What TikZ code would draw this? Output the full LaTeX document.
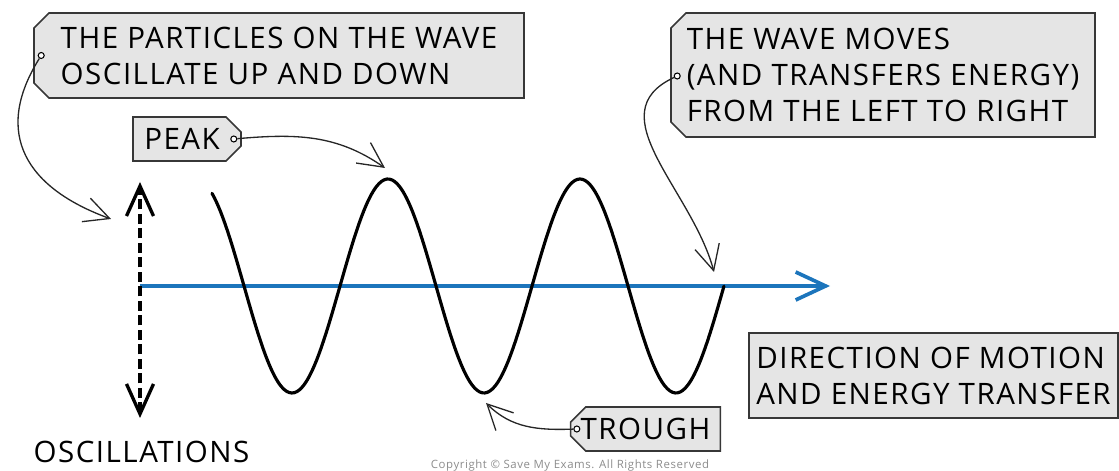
\documentclass[tikz,border=0pt]{standalone}
\usepackage{fontspec}
\setmainfont{Open Sans}[LetterSpace=5]
\usetikzlibrary{shapes.misc,arrows.meta,positioning,calc}

\definecolor{axisblue}{RGB}{28,117,188}
\definecolor{tagfill}{RGB}{229,229,229}
\definecolor{tagline}{RGB}{55,55,55}

\begin{document}
\begin{tikzpicture}[
    >={Straight Barb[length=5mm,width=5mm]},
    labelfont/.style={font=\fontsize{16.8}{20.5}\selectfont},
    tagbox/.style={labelfont, draw=tagline, fill=tagfill, line width=0.9pt, chamfered rectangle, chamfered rectangle xsep=0.15cm, chamfered rectangle ysep=0.15cm, align=left, inner xsep=0.05cm, inner ysep=0pt},
    tagwest/.style={tagbox, chamfered rectangle corners={north west,south west}},
    tageast/.style={tagbox, chamfered rectangle corners={north east,south east}},
    plainbox/.style={labelfont, draw=tagline, fill=tagfill, line width=0.9pt, rectangle, align=left, inner xsep=0.05cm, inner ysep=0pt},
    pindot/.style={circle, draw=black, fill=white, line width=0.6pt, inner sep=0pt, minimum size=0.12cm},
    callout/.style={->, line width=0.75pt, black!85},
    wave/.style={line width=1.8pt, line cap=round},
    axisline/.style={->, >={Straight Barb[length=6mm,width=5.6mm]}, axisblue, line width=2.1pt},
    oscline/.style={<->, >={Straight Barb[length=6mm,width=5.4mm]}, line width=1.9pt, dash pattern=on 0.2cm off 0.09cm}
]
\useasboundingbox (0,0) rectangle (22.38,9.42);

% labels
\node[tagwest, minimum width=9.80cm, minimum height=1.70cm] (particles) at (5.58,8.31) {THE PARTICLES ON THE WAVE\\OSCILLATE UP AND DOWN};
\node[tageast, minimum width=2.16cm, minimum height=0.88cm] (peak) at (3.74,6.64) {PEAK\hspace*{0.2cm}};
\node[tagwest, minimum width=8.48cm, minimum height=2.48cm] (moves) at (17.66,7.92) {THE WAVE MOVES\\(AND TRANSFERS ENERGY)\\FROM THE LEFT TO RIGHT};
\node[plainbox, minimum width=7.38cm, minimum height=1.70cm] (direction) at (18.67,1.91) {DIRECTION OF MOTION\\AND ENERGY TRANSFER};
\node[tagwest, minimum width=2.98cm, minimum height=0.88cm] (trough) at (12.91,0.84) {TROUGH};
\node[labelfont] (osc) at (2.83,0.38) {OSCILLATIONS};
\node[font=\fontsize{6.5}{7}\selectfont, text=black!45] (copy) at (11.40,0.10) {Copyright \textcopyright{} Save My Exams. All Rights Reserved};

% pins on the tags
\node[pindot] (d1) at ($(particles.west)+(0.16,0)$) {};
\node[pindot] (d2) at ($(peak.east)+(-0.16,0)$) {};
\node[pindot] (d3) at ($(moves.west)+(0.14,-0.02)$) {};
\node[pindot] (d4) at ($(trough.west)+(0.14,0)$) {};

% axis and oscillation arrow
\coordinate (origin) at (2.80,3.70);
\coordinate (axisend) at (16.60,3.70);
\coordinate (osctop) at (2.80,5.78);
\coordinate (oscbot) at (2.80,1.06);
\draw[axisline] (origin) -- (axisend);
\draw[oscline] (oscbot) -- (osctop);

% the wave
\draw[wave] plot[domain=4.24:14.48, samples=200, smooth] (\x,{3.70+2.14*cos(360*(\x-7.76)/3.84)});

% arrow targets
\coordinate (t1) at (2.22,5.04);
\coordinate (t2) at (7.70,6.06);
\coordinate (t3) at (14.28,3.98);
\coordinate (t4) at (9.72,1.36);

\draw[callout] (d1) to[out=238, in=160, looseness=1.3] (t1);
\draw[callout] (d2) to[out=5, in=145] (t2);
\draw[callout] (d3) to[out=205, in=105, looseness=1.1] (t3);
\draw[callout] (d4) to[out=182, in=-45] (t4);
\end{tikzpicture}
\end{document}
